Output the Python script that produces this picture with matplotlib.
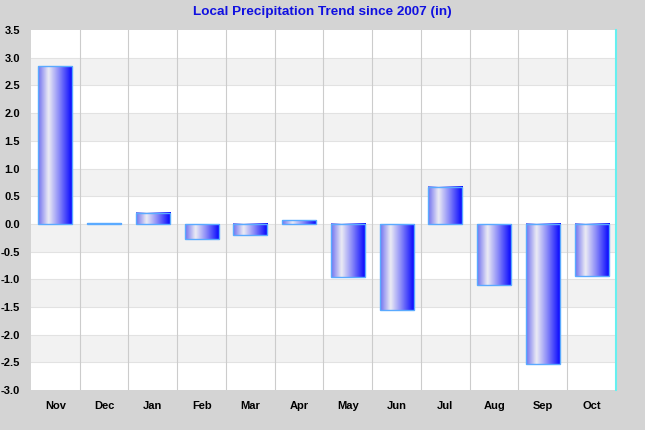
import numpy as np
import matplotlib.pyplot as plt
from matplotlib.colors import LinearSegmentedColormap

months = ['Nov', 'Dec', 'Jan', 'Feb', 'Mar', 'Apr', 'May', 'Jun', 'Jul', 'Aug', 'Sep', 'Oct']
trend = [2.85, 0.01, 0.2, -0.27, -0.2, 0.07, -0.96, -1.55, 0.67, -1.1, -2.53, -0.94]

plt.rcParams['font.family'] = ['Liberation Sans', 'DejaVu Sans']

fig = plt.figure(figsize=(6.45, 4.3), dpi=100, facecolor='#d4d4d4')
ax = fig.add_axes([0.048, 0.093, 0.907, 0.837])
ax.set_facecolor('white')

# alternating bands
yt = np.arange(-3.0, 3.51, 0.5)
for i in range(len(yt) - 1):
    if i % 2 == 1:
        ax.axhspan(yt[i], yt[i + 1], color='#f2f2f2', zorder=0, lw=0)
for y in yt[1:-1]:
    ax.axhline(y, color='#e2e2e2', lw=0.8, zorder=0.5)
for k in range(1, len(months)):
    ax.axvline(k - 0.5, color='#cccccc', lw=0.8, zorder=0.6)

cmap = LinearSegmentedColormap.from_list('bar', [
    (0.0, '#7070f0'), (0.3, '#ececf4'), (0.6, '#8c8cf8'), (1.0, '#0000ff')])
grad = np.linspace(0, 1, 100).reshape(1, -1)
w = 0.7
ax.bar(range(len(months)), trend, width=w, color='none',
       edgecolor='#5aaaff', lw=1, zorder=3)
for i, v in enumerate(trend):
    lo, hi = min(0, v), max(0, v)
    ax.imshow(grad, cmap=cmap, aspect='auto', extent=(i - w / 2, i + w / 2, lo, hi),
              zorder=2, interpolation='bilinear')
ax.set_xlim(-0.5, len(months) - 0.5)
ax.set_ylim(-3.0, 3.5)

ax.set_xticks(range(len(months)))
ax.set_xticklabels(months, fontsize=8, fontweight='bold')
ax.set_yticks(yt)
ax.set_yticklabels(['%.1f' % y for y in yt], fontsize=8, fontweight='bold')
ax.tick_params(length=0)
ax.tick_params(axis='x', pad=8)
ax.tick_params(axis='y', pad=8)

for s in ['top', 'left', 'bottom']:
    ax.spines[s].set_visible(False)
ax.spines['right'].set_color('#66f0f0')
ax.spines['right'].set_linewidth(1.5)

fig.text(0.5, 0.972, 'Local Precipitation Trend since 2007 (in)', ha='center', va='center',
         color='#1010e0', fontsize=9.7, fontweight='bold')

fig.savefig('out.png', dpi=100, facecolor=fig.get_facecolor())
